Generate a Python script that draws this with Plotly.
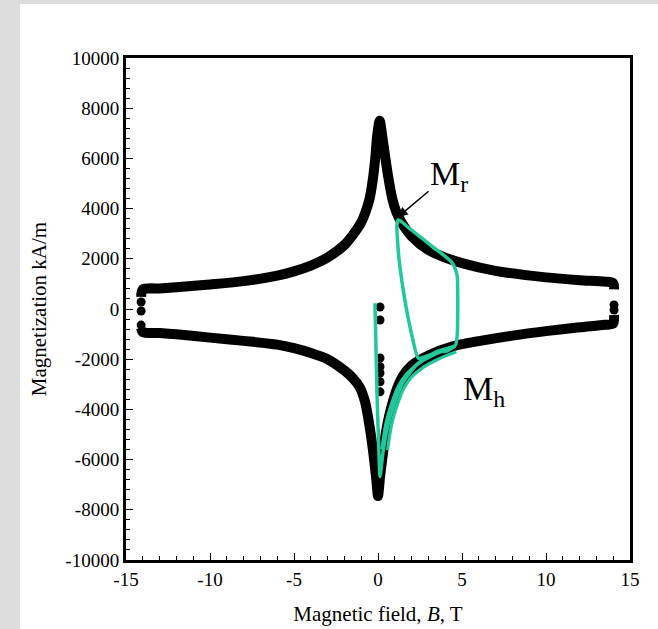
import plotly.graph_objects as go

# Upper branch of the butterfly curve (B in T, M in kA/m)
upper_B = [-14.1, -14.0, -13, -12, -10, -8, -6, -5, -4, -3, -2, -1.5, -1.0, -0.75, -0.5, -0.3, -0.15, -0.05, 0.1,
           0.25, 0.4, 0.6, 0.85, 1.1, 1.4, 2, 3, 4, 5, 7, 10, 12, 13.5, 14.0, 14.05]
upper_M = [480, 780, 820, 870, 980, 1110, 1330, 1500, 1730, 2050, 2550, 2950, 3450, 3850, 4400, 5200, 6100, 6900, 7500,
           6900, 6200, 5300, 4400, 3850, 3450, 2900, 2350, 2050, 1830, 1520, 1260, 1150, 1090, 1030, 780]
# Lower branch
lower_B = [-14.1, -14.0, -13, -12, -10, -8, -6, -5, -4, -3, -2, -1.5, -1.1, -0.77, -0.45, -0.25, -0.1, 0.0,
           0.12, 0.25, 0.45, 0.65, 0.9, 1.2, 1.5, 2, 3, 4.5, 6, 8, 10, 12, 13.5, 14.0, 14.05]
lower_M = [-760, -920, -960, -1010, -1140, -1270, -1420, -1560, -1750, -2000, -2450, -2750, -3100, -3700, -4900, -5900,
           -6800, -7450, -6700, -6000, -5000, -4300, -3650, -3050, -2650, -2250, -1850, -1480, -1280, -1060, -880,
           -730, -630, -580, -240]
# Isolated measured points
dots_B = [-14.1, -14.1, -14.1, 14.05, 14.05, 0.12, 0.12, 0.12, 0.12, 0.12, 0.12, 0.12]
dots_M = [280, -80, -640, 160, -40, 80, -440, -1950, -2300, -2550, -2900, -3300]

# Green minor loop path
green_B = [-0.18, -0.05, 0.05, 0.12, 0.3, 0.6, 1.0, 1.5, 2.4, 3.5, 4.6, 4.72, 4.72, 4.6, 4.35, 3.9, 3.2, 2.5, 1.8,
           1.4, 1.2, 1.12, 1.25, 1.6, 2.0, 2.4, 3.0, 3.6, 4.1, 4.6]
green_M = [230, -3600, -5600, -6680, -5700, -4600, -3700, -2900, -2150, -1700, -1450, -1000, 1290, 1600, 1900, 2150,
           2500, 2880, 3250, 3480, 3550, 3300, 2000, 360, -1000, -1965, -1850, -1700, -1680, -1470]
# Doubled (green-black-green) stretch along the lower branch
double_B = [0.4, 0.65, 0.95, 1.35, 1.85, 2.55, 3.5, 4.6]
double_M = [-5600, -4550, -3850, -3150, -2650, -2250, -1900, -1600]

x_ticks = [-15, -10, -5, 0, 5, 10, 15]
y_ticks = [-10000, -8000, -6000, -4000, -2000, 0, 2000, 4000, 6000, 8000, 10000]

fig = go.Figure()
for bx, my in ((upper_B, upper_M), (lower_B, lower_M)):
    fig.add_trace(go.Scatter(x=bx, y=my, mode="lines", line=dict(color="black", width=10, shape="spline", smoothing=0.8),
                             hoverinfo="skip", showlegend=False))
fig.add_trace(go.Scatter(x=dots_B, y=dots_M, mode="markers", marker=dict(color="black", size=9),
                         showlegend=False, hoverinfo="skip"))
fig.add_trace(go.Scatter(x=double_B, y=double_M, mode="lines",
                         line=dict(color="#22c79a", width=9, shape="spline", smoothing=0.8), showlegend=False))
fig.add_trace(go.Scatter(x=double_B, y=double_M, mode="lines",
                         line=dict(color="black", width=2.5, shape="spline", smoothing=0.8), showlegend=False))
fig.add_trace(go.Scatter(x=green_B, y=green_M, mode="lines",
                         line=dict(color="#22c79a", width=3.5, shape="spline", smoothing=0.5), showlegend=False))

font = "Liberation Serif"
fig.add_annotation(x=1.19, y=3665, ax=3.1, ay=4740, axref="x", ayref="y", xref="x", yref="y", text="",
                   showarrow=True, arrowhead=2, arrowsize=1.3, arrowwidth=1.5, arrowcolor="black", standoff=0)
fig.add_annotation(x=3.0, y=5300, xref="x", yref="y", text="M<sub>r</sub>", showarrow=False,
                   xanchor="left", yanchor="middle", font=dict(family=font, size=34, color="black"))
fig.add_annotation(x=4.95, y=-3250, xref="x", yref="y", text="M<sub>h</sub>", showarrow=False,
                   xanchor="left", yanchor="middle", font=dict(family=font, size=34, color="black"))

# background: white sheet over a grey border strip on left and top
fig.add_shape(type="rect", xref="paper", yref="paper", x0=-0.2103, x1=1.06, y0=-0.14, y1=1.1076,
              fillcolor="white", line=dict(width=0), layer="below")

axis_common = dict(showline=True, linecolor="black", linewidth=3, mirror=True, ticks="inside", ticklen=7,
                   tickwidth=1, tickcolor="black", showgrid=False, zeroline=False, automargin=False,
                   tickfont=dict(family=font, size=19, color="black"))
fig.update_xaxes(range=[-15, 15], tickvals=x_ticks, ticktext=[str(v) for v in x_ticks],
                 minor=dict(dtick=1, tick0=-15, ticks="inside", ticklen=4, tickcolor="black"),
                 title=dict(text="Magnetic field, <i>B</i>, T", font=dict(family=font, size=21, color="black"), standoff=18),
                 **axis_common)
fig.update_yaxes(range=[-10000, 10000], tickvals=y_ticks, ticktext=[str(v) for v in y_ticks],
                 minor=dict(dtick=400, tick0=0, ticks="inside", ticklen=4, tickcolor="black"),
                 title=dict(text="Magnetization kA/m", font=dict(family=font, size=21, color="black"), standoff=14),
                 **axis_common)
fig.update_layout(width=658, height=629, margin=dict(l=126, r=28, t=58, b=69),
                  paper_bgcolor="#dcdcdc", plot_bgcolor="white")
fig.write_html("out.html", config={"displayModeBar": False},
               post_script="document.body.style.margin='0';document.body.style.background='#dcdcdc';")
